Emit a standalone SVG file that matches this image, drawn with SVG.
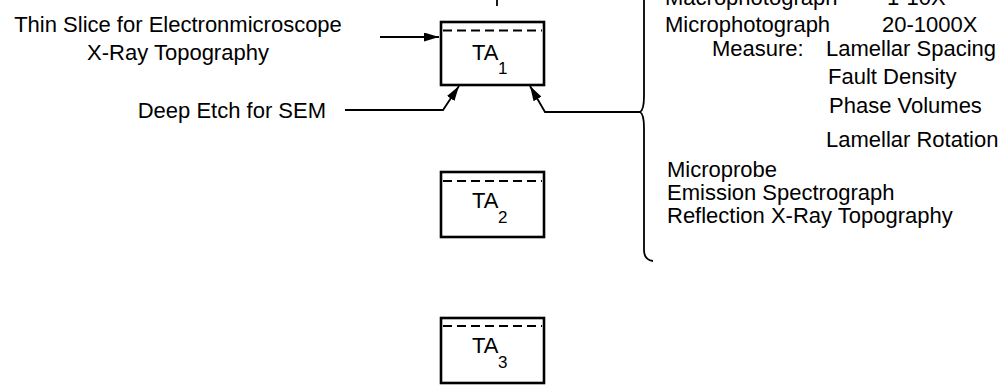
<svg xmlns="http://www.w3.org/2000/svg" width="1000" height="385" viewBox="0 0 1000 385">
<style>
text{font-family:"Liberation Sans",Arial,sans-serif;font-size:22px;fill:#000}
.sub{font-size:17px}
.box{fill:#fff;stroke:#000;stroke-width:2.6}
.dash{stroke:#000;stroke-width:2;stroke-dasharray:9 5;fill:none}
.ln{stroke:#000;stroke-width:1.8;fill:none}
</style>
<defs>
<marker id="ah" viewBox="0 0 15 9" markerWidth="15" markerHeight="9" refX="15" refY="4.5" orient="auto" markerUnits="userSpaceOnUse">
<path d="M0,0 L15,4.5 L0,9 Z" fill="#000"/>
</marker>
</defs>
<rect width="1000" height="385" fill="#fff"/>
<g id="connectors">
<line class="ln" x1="497" y1="-2" x2="497" y2="6"/>
<line class="ln" x1="380" y1="37" x2="439" y2="37" marker-end="url(#ah)"/>
<polyline class="ln" points="345,110 443,110 459,86" marker-end="url(#ah)"/>
<polyline class="ln" points="640,112 545,112 530,86" marker-end="url(#ah)"/>
<path class="ln" d="M644,-2 L644,96 Q644,110 640,112 Q644,114 644,128 L644,250 Q644,260 653,261"/>
</g>
<g id="ta1">
<rect class="box" x="441" y="22" width="103" height="63"/>
<line class="dash" x1="443" y1="30.5" x2="542" y2="30.5"/>
<text x="472" y="60">TA</text><text class="sub" x="498" y="74">1</text>
</g>
<g id="ta2">
<rect class="box" x="441" y="172" width="103" height="65"/>
<line class="dash" x1="443" y1="181" x2="542" y2="181"/>
<text x="472" y="208">TA</text><text class="sub" x="498" y="223">2</text>
</g>
<g id="ta3">
<rect class="box" x="441" y="318" width="103" height="65"/>
<line class="dash" x1="443" y1="326" x2="542" y2="326"/>
<text x="472" y="353">TA</text><text class="sub" x="498" y="368">3</text>
</g>
<g id="left-labels">
<text x="178" y="32" text-anchor="middle">Thin Slice for Electronmicroscope</text>
<text x="178" y="60" text-anchor="middle">X-Ray Topography</text>
<text x="326" y="118" text-anchor="end">Deep Etch for SEM</text>
</g>
<g id="methods">
<text x="665" y="5">Macrophotograph</text><text x="887" y="5">1-10X</text>
<text x="665" y="32">Microphotograph</text><text x="882" y="32">20-1000X</text>
<text x="712" y="56">Measure:</text><text x="826" y="56">Lamellar Spacing</text>
<text x="828" y="84">Fault Density</text>
<text x="829" y="113">Phase Volumes</text>
<text x="826" y="147">Lamellar Rotation</text>
<text x="667" y="177">Microprobe</text>
<text x="667" y="200">Emission Spectrograph</text>
<text x="667" y="223">Reflection X-Ray Topography</text>
</g>
</svg>
